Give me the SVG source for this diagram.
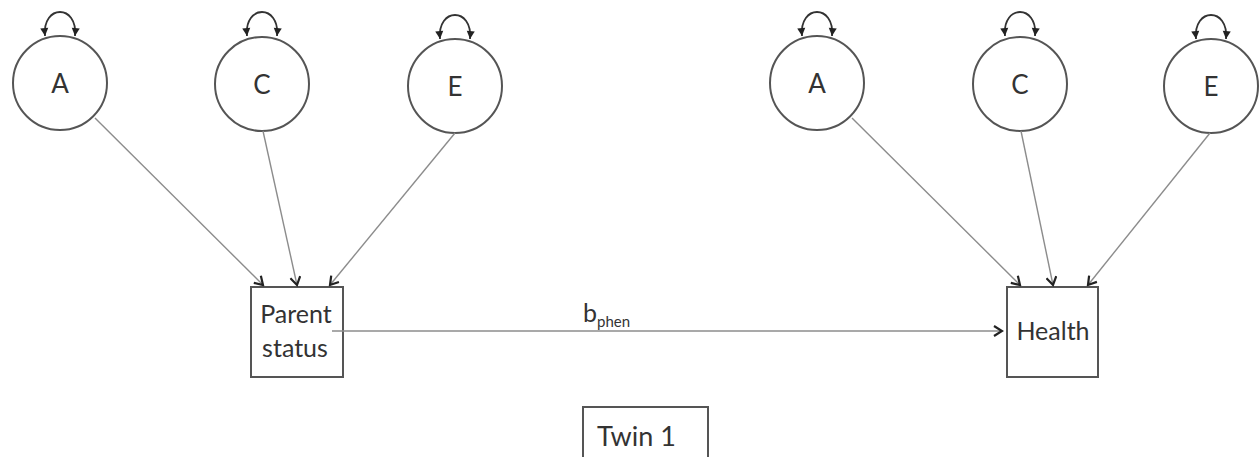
<svg xmlns="http://www.w3.org/2000/svg" width="1260" height="457" viewBox="0 0 1260 457">
<style>
.lat{fill:#fff;stroke:#555;stroke-width:2}
.box{fill:#fff;stroke:#555;stroke-width:2}
.lbl{font-family:Lato,"Open Sans","Liberation Sans",sans-serif;fill:#333;}
.conn{stroke:#8c8c8c;stroke-width:1.4;fill:none;marker-end:url(#chev)}
.loop{stroke:#333;stroke-width:1.8;fill:none;marker-start:url(#tri);marker-end:url(#tri)}
</style>
<defs>
<marker id="chev" markerUnits="userSpaceOnUse" viewBox="-10 -6 12 12" refX="0" refY="0" markerWidth="12" markerHeight="12" orient="auto">
<path d="M-8,-5 L0,0 L-8,5" fill="none" stroke="#222" stroke-width="2.2" stroke-linejoin="miter"/>
</marker>
<marker id="tri" markerUnits="userSpaceOnUse" viewBox="-9 -5 10 10" refX="0" refY="0" markerWidth="10" markerHeight="10" orient="auto-start-reverse">
<path d="M-8,-4 L0,0 L-8,4 Z" fill="#222"/>
</marker>
</defs>

<g id="left-A"><path class="loop" d="M45,36 C42,4 78,4 75,36"/><circle class="lat" cx="60" cy="83" r="47"/><text class="lbl" x="60" y="93" font-size="26" text-anchor="middle">A</text></g>
<g id="left-C"><path class="loop" d="M247,36 C244,4 280,4 277,36"/><circle class="lat" cx="262" cy="84" r="47"/><text class="lbl" x="262" y="94" font-size="26" text-anchor="middle">C</text></g>
<g id="left-E"><path class="loop" d="M440,39 C437,7 473,7 470,39"/><circle class="lat" cx="455" cy="86" r="47"/><text class="lbl" x="455" y="96" font-size="26" text-anchor="middle">E</text></g>

<g id="right-A"><path class="loop" d="M802,36 C799,4 835,4 832,36"/><circle class="lat" cx="817" cy="83" r="47"/><text class="lbl" x="817" y="93" font-size="26" text-anchor="middle">A</text></g>
<g id="right-C"><path class="loop" d="M1005,36 C1002,4 1038,4 1035,36"/><circle class="lat" cx="1020" cy="84" r="47"/><text class="lbl" x="1020" y="94" font-size="26" text-anchor="middle">C</text></g>
<g id="right-E"><path class="loop" d="M1196,39 C1193,7 1229,7 1226,39"/><circle class="lat" cx="1211" cy="86" r="47"/><text class="lbl" x="1211" y="96" font-size="26" text-anchor="middle">E</text></g>

<g id="parent-status"><rect class="box" x="251" y="287" width="92" height="90"/><text class="lbl" x="296" y="323" font-size="25" text-anchor="middle">Parent</text><text class="lbl" x="295" y="357" font-size="25" text-anchor="middle">status</text></g>
<g id="health"><rect class="box" x="1007" y="287" width="91" height="90"/><text class="lbl" x="1053" y="340" font-size="25" text-anchor="middle">Health</text></g>
<g id="twin1"><rect class="box" x="583" y="407" width="125" height="70"/><text class="lbl" x="597" y="446" font-size="27">Twin 1</text></g>

<g id="connectors">
<line class="conn" x1="95" y1="118" x2="263" y2="285"/>
<line class="conn" x1="263" y1="131" x2="297" y2="285"/>
<line class="conn" x1="455" y1="133" x2="330" y2="285"/>
<line class="conn" x1="852" y1="118" x2="1020" y2="285"/>
<line class="conn" x1="1021" y1="131" x2="1053" y2="285"/>
<line class="conn" x1="1210" y1="133" x2="1088" y2="285"/>
<line class="conn" x1="332" y1="331" x2="1002" y2="331"/>
<text class="lbl" x="583" y="322" font-size="25">b<tspan font-size="15" dy="5">phen</tspan></text>
</g>
</svg>
